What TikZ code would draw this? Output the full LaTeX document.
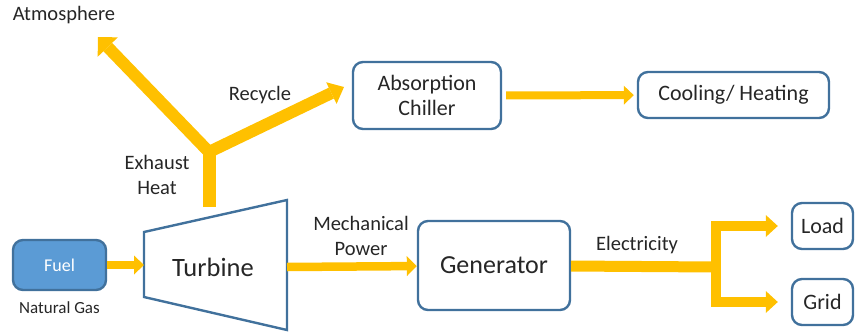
\documentclass[tikz,border=0pt]{standalone}
\usepackage{fontspec}
\setmainfont{Carlito}
\usetikzlibrary{arrows.meta,positioning}

\definecolor{boxblue}{HTML}{41719C}
\definecolor{fuelblue}{HTML}{5B9BD5}
\definecolor{flowyellow}{HTML}{FFC000}
\definecolor{txt}{HTML}{262626}

\begin{document}
\begin{tikzpicture}[x=0.5pt,y=-0.5pt,
	>={Triangle[length=5pt,width=9.5pt,line width=0pt]},
	box/.style={draw=boxblue,line width=1.2pt,rounded corners=5pt,align=center,text=txt,inner sep=0pt},
	flow/.style={draw=flowyellow,line width=4pt},
	lbl/.style={font=\fontsize{10.25}{12.5}\selectfont,text=txt,align=center}]
	\useasboundingbox (0,0) rectangle (856,332);

	% turbine outline
	\coordinate (tl) at (144,232);
	\coordinate (tr) at (287,200);
	\coordinate (br) at (287,330);
	\coordinate (bl) at (144,297);
	\draw[boxblue,line width=1.2pt,line join=miter] (tl) -- (tr) -- (br) -- (bl) -- cycle;
	\node[font=\fontsize{13.25}{15}\selectfont,text=txt] (turb) at (213,267) {Turbine};

	\node[box,fill=fuelblue,text=white,minimum width=46.5pt,minimum height=25pt,font=\fontsize{9}{11}\selectfont] (fuel) at (59.5,265) {Fuel};
	\node[lbl,font=\fontsize{8.5}{10}\selectfont] (gas) [below=1.5pt of fuel] {Natural Gas};
	\node[box,minimum width=76pt,minimum height=44.5pt,font=\fontsize{13}{15}\selectfont] (gen) at (494,265.5) {Generator};
	\node[box,minimum width=74pt,minimum height=33.5pt,font=\fontsize{11}{12.5}\selectfont] (chiller) at (427,95.5) {Absorption\\Chiller};
	\node[box,minimum width=95.5pt,minimum height=23pt,font=\fontsize{11}{13}\selectfont] (cool) at (733.5,95) {Cooling/ Heating};
	\node[box,minimum width=30.5pt,minimum height=23pt,font=\fontsize{11}{13}\selectfont] (load) at (822.5,226) {Load};
	\node[box,minimum width=30.5pt,minimum height=23pt,font=\fontsize{11}{13}\selectfont] (grid) at (822.5,302) {Grid};

	% exhaust heat split
	\coordinate (ex) at (209,152);
	\coordinate (exb) at (209,207);
	\coordinate (atm) at (98,37);
	\coordinate (rec) at (344,87);
	\draw[flow,line width=6.5pt] (exb) -- (ex);
	\draw[flow,line width=6pt,-{Triangle[length=7pt,width=14pt,line width=0pt]},shorten <=-3pt] (ex) -- (atm);
	\draw[flow,line width=6pt,-{Triangle[length=7pt,width=12pt,line width=0pt]},shorten <=-3pt] (ex) -- (rec);

	% energy flows
	\draw[flow,->] (fuel) -- (fuel -| tl);
	\draw[flow,line width=4.25pt,-{Triangle[length=5pt,width=10pt,line width=0pt]}] (turb -| tr) -- (gen);
	\draw[flow,->,shorten <=2pt,shorten >=1.5pt] (chiller) -- (cool);
	\coordinate (split) at (716,267);
	\draw[flow,line width=5.5pt] (gen) -- (split);
	\draw[flow,line width=5pt,-{Triangle[length=6pt,width=11pt,line width=0pt]},shorten >=6.5pt] (split) |- (load);
	\draw[flow,line width=5pt,-{Triangle[length=6pt,width=11pt,line width=0pt]},shorten >=6.5pt] (split) |- (grid);

	% labels
	\node[lbl] (atmos) at (64,15) {Atmosphere};
	\node[lbl] (recycle) at (260,95) {Recycle};
	\node[lbl] (exhaust) at (157,175) {Exhaust\\Heat};
	\node[lbl] (mech) at (361,236) {Mechanical\\Power};
	\node[lbl] (elec) at (637,245) {Electricity};
\end{tikzpicture}
\end{document}
